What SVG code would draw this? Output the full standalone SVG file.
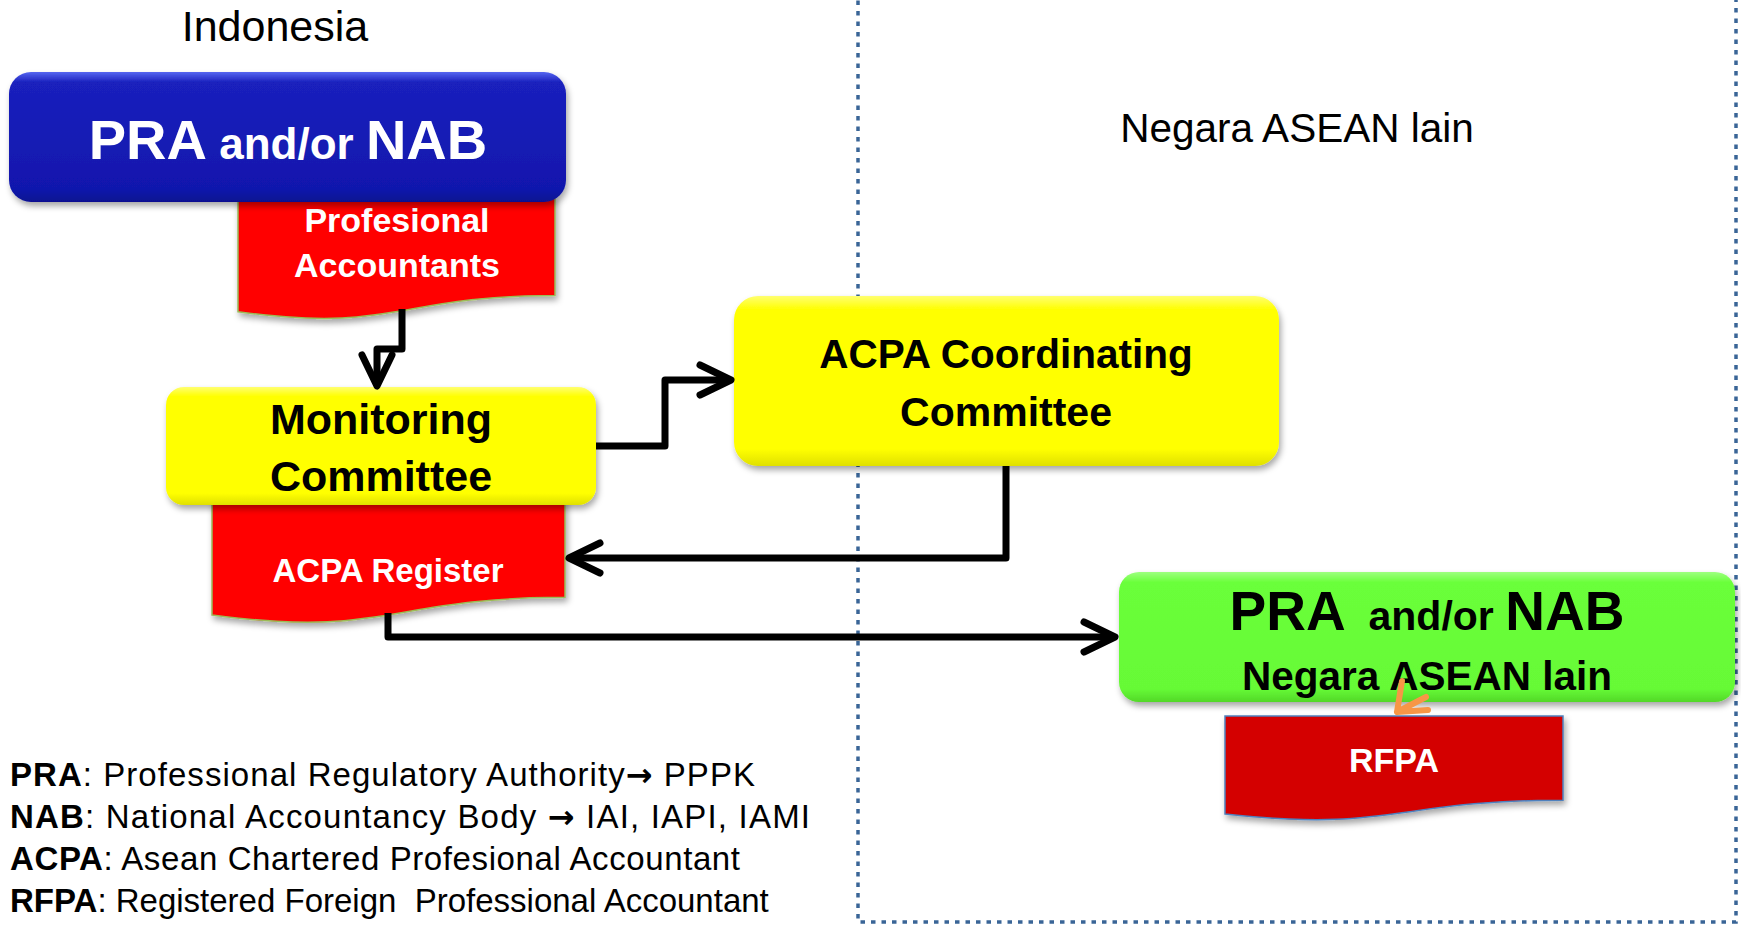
<svg xmlns="http://www.w3.org/2000/svg" width="1741" height="927" viewBox="0 0 1741 927">
<defs>
<style>
.t{font-family:"Liberation Sans",Arial,sans-serif}
.b{font-weight:bold}
.w{fill:#fff}
.k{fill:#000}
.pre{white-space:pre}
.ar{font-family:"DejaVu Sans",sans-serif;font-weight:bold}
.conn{fill:none;stroke:#000;stroke-width:7;stroke-linejoin:round;stroke-linecap:butt}
.doc{fill:#ff0000;stroke:#9bbb59;stroke-width:1.5}
</style>
<filter id="sh" x="-10%" y="-10%" width="120%" height="130%">
<feDropShadow dx="2" dy="4" stdDeviation="3" flood-color="#000" flood-opacity="0.35"/>
</filter>
<linearGradient id="gBlue" x1="0" y1="0" x2="0" y2="1">
<stop offset="0" stop-color="#5565f0"/>
<stop offset="0.08" stop-color="#1a20bd"/>
<stop offset="0.9" stop-color="#1117ad"/>
<stop offset="1" stop-color="#0c1190"/>
</linearGradient>
<linearGradient id="gYel" x1="0" y1="0" x2="0" y2="1">
<stop offset="0" stop-color="#ffff70"/>
<stop offset="0.08" stop-color="#ffff00"/>
<stop offset="0.9" stop-color="#ffff00"/>
<stop offset="1" stop-color="#e0e000"/>
</linearGradient>
<linearGradient id="gGrn" x1="0" y1="0" x2="0" y2="1">
<stop offset="0" stop-color="#9dff80"/>
<stop offset="0.08" stop-color="#6aff3a"/>
<stop offset="0.9" stop-color="#66fa36"/>
<stop offset="1" stop-color="#52d828"/>
</linearGradient>
<marker id="arr" markerUnits="userSpaceOnUse" markerWidth="44" markerHeight="44" viewBox="-38 -22 44 44" refX="0" refY="0" orient="auto">
<path d="M-31,-15 L0,0 L-31,15" fill="none" stroke="#000" stroke-width="7" stroke-linecap="round" stroke-linejoin="round"/>
</marker>
</defs>

<rect width="1741" height="927" fill="#fff"/>

<g id="region-border">
<path d="M858,-10 V922 H1736 V-10" fill="none" stroke="#3a6597" stroke-width="3.5" stroke-dasharray="4.5 6"/>
</g>

<g id="label-indonesia">
<text class="t" x="275" y="41" font-size="43" text-anchor="middle" fill="#000">Indonesia</text>
</g>
<g id="label-asean">
<text class="t" x="1297" y="142" font-size="40.5" text-anchor="middle" fill="#000">Negara ASEAN lain</text>
</g>

<g id="doc-professional-accountants">
<path class="doc" filter="url(#sh)" d="M238,196 H555 V295.4 C396.5,295.4 396.5,333.3 238,311.8 Z"/>
<text class="t b w" x="397" y="232" font-size="34" text-anchor="middle">Profesional</text>
<text class="t b w" x="397" y="277" font-size="34" text-anchor="middle">Accountants</text>
</g>

<g id="node-pra-nab-indonesia">
<rect x="9" y="72" width="557" height="130" rx="22" fill="url(#gBlue)" filter="url(#sh)"/>
<text class="t b w" x="288" y="159" text-anchor="middle"><tspan font-size="56">PRA</tspan><tspan font-size="44"> and/or </tspan><tspan font-size="56">NAB</tspan></text>
</g>

<g id="doc-acpa-register">
<path class="doc" filter="url(#sh)" d="M212,489 H565 V597.3 C388.5,597.3 388.5,638.5 212,615.1 Z"/>
<text class="t b w" x="388" y="582" font-size="33" text-anchor="middle">ACPA Register</text>
</g>

<g id="node-monitoring-committee">
<rect x="166" y="387" width="430" height="118" rx="18" fill="url(#gYel)" filter="url(#sh)"/>
<text class="t b k" x="381" y="434" font-size="43" text-anchor="middle">Monitoring</text>
<text class="t b k" x="381" y="491" font-size="43" text-anchor="middle">Committee</text>
</g>

<g id="node-acpa-coordinating">
<rect x="734" y="296" width="545" height="170" rx="24" fill="url(#gYel)" filter="url(#sh)"/>
<text class="t b k" x="1006" y="368" font-size="40.5" text-anchor="middle">ACPA Coordinating</text>
<text class="t b k" x="1006" y="426" font-size="41" text-anchor="middle">Committee</text>
</g>

<g id="doc-rfpa">
<path d="M1225,716 H1563 V800.2 C1394,800.2 1394,832.3 1225,814.1 Z" fill="#d40000" stroke="#4f81bd" stroke-width="1.5" filter="url(#sh)"/>
<text class="t b w" x="1394" y="772" font-size="34" text-anchor="middle">RFPA</text>
</g>

<g id="node-pra-nab-asean">
<rect x="1119" y="572" width="616" height="130" rx="20" fill="url(#gGrn)" filter="url(#sh)"/>
<text class="t b k pre" x="1427" y="630" text-anchor="middle"><tspan font-size="55">PRA</tspan><tspan font-size="41">  and/or </tspan><tspan font-size="55">NAB</tspan></text>
<text class="t b k" x="1427" y="690" font-size="40.5" text-anchor="middle">Negara ASEAN lain</text>
</g>

<g id="connectors">
<path class="conn" marker-end="url(#arr)" d="M402,309 V349 H377 V386"/>
<path class="conn" marker-end="url(#arr)" d="M596,446 H665 V380 H731"/>
<path class="conn" marker-end="url(#arr)" d="M1006,466 V558 H569"/>
<path class="conn" marker-end="url(#arr)" d="M388,613 V637 H1115"/>
<path d="M1426,697 L1397,712 M1402,681 L1397,712 L1428,710" fill="none" stroke="#f79646" stroke-width="6" stroke-linecap="round" stroke-linejoin="round"/>
</g>

<g id="legend" class="t" font-size="33" fill="#000">
<text class="pre" x="10" y="786" textLength="745" lengthAdjust="spacing"><tspan font-weight="bold">PRA</tspan>: Professional Regulatory Authority<tspan class="ar" font-size="32">→</tspan> PPPK</text>
<text class="pre" x="10" y="828" textLength="800" lengthAdjust="spacing"><tspan font-weight="bold">NAB</tspan>: National Accountancy Body <tspan class="ar" font-size="32">→</tspan> IAI, IAPI, IAMI</text>
<text class="pre" x="10" y="870" textLength="730" lengthAdjust="spacing"><tspan font-weight="bold">ACPA</tspan>: Asean Chartered Profesional Accountant</text>
<text class="pre" x="10" y="912"><tspan font-weight="bold">RFPA</tspan>: Registered Foreign  Professional Accountant</text>
</g>
</svg>
